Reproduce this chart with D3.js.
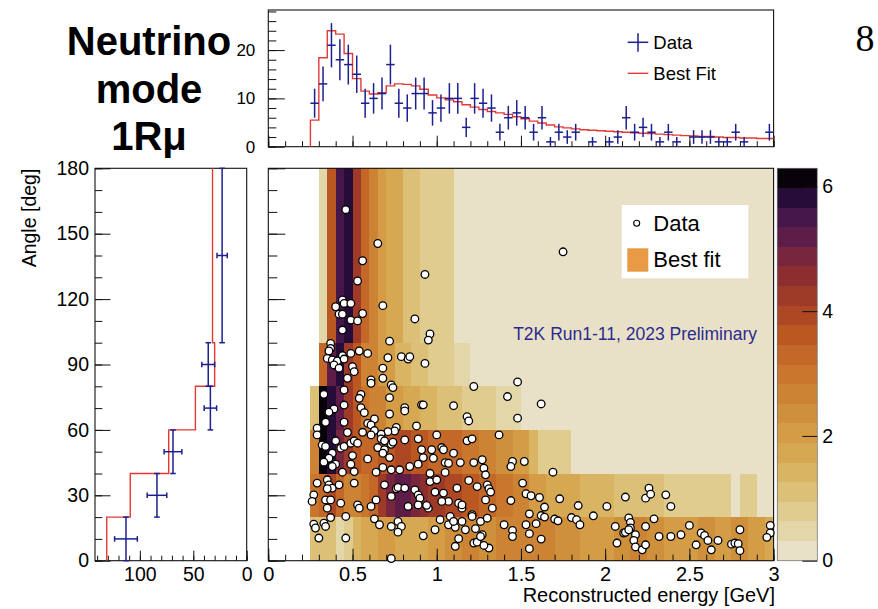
<!DOCTYPE html>
<html>
<head>
<meta charset="utf-8">
<script src="https://cdn.jsdelivr.net/npm/d3@7"></script>
<style>
  html, body { margin: 0; padding: 0; background: #fff; }
  svg { display: block; }
</style>
</head>
<body>
<svg id="chart" width="878" height="609"></svg>
<script>
// ---------------- data ----------------
// Reconstructed-energy projection: 0.05 GeV bins starting at 0.25 GeV
const energyBinStart = 0.25;
const energyBinWidth = 0.05;
const energyData = [9,13,21,18,17,15,9,10,11,17,9,8,11,11,7,8,10,10,4,10,9,8,3,6,7,
                    6,3,6,1,3,2,3,0,1,0,1,2,6,3,4,3,1,3,1,0,2,2,2,1,1,3,1,0,0,3];
const energyFit = [5.5,18.4,24.0,23.3,19.3,14.1,11.5,10.9,11.2,12.6,13.0,12.9,12.6,11.9,10.7,
                   10.1,9.7,9.3,8.7,8.2,7.7,7.3,7.0,6.7,6.2,5.8,5.3,4.9,4.5,4.1,3.9,3.7,3.5,
                   3.4,3.3,3.2,3.1,3.0,2.9,2.8,2.7,2.6,2.5,2.4,2.3,2.2,2.1,2.1,2.0,1.9,1.9,
                   1.8,1.8,1.7,1.7];

// Angle projection
const angleEdges = [0, 20, 40, 60, 80, 100, 180];
const angleData = [113, 84, 69, 34, 36, 23];
const angleFit = [131, 109, 73, 48, 30, 32];

// 2D best-fit prediction, one row of variable-width energy bins per angle band
const fitEdges_0_20 = [0.25,0.40,0.45,0.50,0.55,0.65,0.75,0.95,1.05,1.15,1.25,1.35,1.70,1.85,2.05,2.15,2.25,2.35,2.55,2.65,2.75,2.85,2.95,3.0];
const fitZ_0_20     = [1.1,0.5,0.8,1.4,1.7,2.0,1.7,2.0,2.4,2.7,2.4,2.7,2.4,2.0,2.4,2.7,2.4,2.0,2.4,2.0,2.4,2.0,1.7];
const fitEdges_20_40 = [0.25,0.30,0.35,0.40,0.45,0.55,0.60,0.65,0.70,0.75,0.85,0.90,0.95,1.05,1.15,1.25,1.35,1.45,1.55,1.65,1.85,2.05,2.35,2.75,2.80,2.90,3.0];
const fitZ_20_40     = [3.0,3.3,3.9,3.3,2.7,3.0,3.3,4.2,4.9,5.2,4.9,4.6,4.2,3.9,3.6,3.3,3.0,2.7,2.0,1.7,1.4,1.1,0.8,0.2,0.8,0.2];
const fitEdges_40_60 = [0.25,0.30,0.35,0.40,0.45,0.50,0.55,0.65,0.75,0.85,0.95,1.15,1.25,1.35,1.45,1.55,1.60,1.80,3.0];
const fitZ_40_60     = [2.7,6.1,5.8,4.9,4.2,3.6,3.3,3.6,3.9,3.6,3.3,3.0,2.7,2.4,2.0,1.4,0.8,0.2];
const fitEdges_60_80 = [0.25,0.30,0.35,0.40,0.45,0.50,0.55,0.60,0.70,0.80,0.90,1.00,1.15,1.35,1.50,3.0];
const fitZ_60_80     = [1.1,6.1,5.8,5.2,4.2,3.6,3.0,2.7,2.0,1.7,1.4,1.1,0.8,0.5,0.2];
const fitEdges_80_100 = [0.30,0.35,0.40,0.45,0.50,0.55,0.65,0.75,0.85,0.95,1.10,1.20,3.0];
const fitZ_80_100     = [3.3,5.2,5.8,4.2,3.6,2.7,2.0,1.4,1.1,0.8,0.5,0.2];
const fitEdges_100_180 = [0.30,0.35,0.40,0.45,0.50,0.55,0.60,0.65,0.70,0.80,0.90,1.10,3.0];
const fitZ_100_180     = [0.5,3.6,5.5,5.8,4.2,3.3,2.7,2.0,1.7,1.1,0.8,0.2];

// Selected events: [reconstructed energy (GeV), angle (deg)]
const dataEvents = [
  [0.46,161],[0.65,145.5],[0.56,137.6],[0.93,131.3],[0.53,128.3],[0.68,117],[0.87,110.9],[0.40,116.5],
  [0.44,119.6],[0.45,118],[0.49,118],[0.42,113.1],[0.44,113.1],[0.49,110.4],[0.53,110],[0.56,113.4],
  [0.44,105.8],[0.96,104],[1.75,141.7],
  [0.37,99.7],[0.72,100.7],[0.95,101.2],[0.37,97.4],[0.36,96.2],[0.35,92.8],[0.38,92.1],[0.41,91.6],
  [0.44,94.1],[0.49,95.1],[0.54,96.2],[0.59,95.1],[0.45,92.5],[0.50,89],[0.51,86.7],[0.39,89.8],
  [0.42,88.3],[0.47,83.7],[0.71,93.1],[0.79,93.6],[0.83,92.5],[0.84,93.6],[0.93,90.5],[0.68,88.3],
  [0.68,83.7],[0.61,82.9],[0.61,81.4],[0.73,80.6],[0.74,79.4],[1.22,79.9],
  [0.33,76.3],[0.45,78.3],[0.55,76.3],[0.54,74.5],[0.72,74.8],[0.45,71.4],[0.39,69.6],[0.36,68.1],
  [0.34,63.5],[0.29,60.8],[0.29,57.7],[0.55,70.2],[0.57,67.9],[0.63,65],[0.59,63],[0.61,62.3],
  [0.72,67.3],[0.81,70.2],[0.81,68.7],[0.91,71.5],[0.92,71.5],[1.10,71.1],[1.18,66.1],[1.19,64.1],
  [0.45,63.5],[0.88,61.8],[0.76,61.1],[0.75,59.5],[0.71,59.2],[0.67,58],[0.63,59.7],[0.56,58.9],
  [0.61,57.7],[0.47,58.8],[0.40,55],[0.32,53.1],[0.34,52.4],[0.43,51.6],[0.45,52.4],[0.49,53.9],
  [0.51,55],[0.53,53.9],[0.67,55.9],[0.69,55],[0.73,53.4],[0.74,54.4],[0.65,51.9],[0.69,50.9],
  [0.68,49.3],[0.81,55.4],[0.89,55.9],[1.00,57.7],[1.18,55],[1.21,55.9],[1.37,57.7],
  [0.38,49.3],[0.36,47],[0.33,45.2],[0.40,44.3],[0.38,43.2],[0.50,48.2],[0.49,44.3],[0.44,40.6],
  [0.51,40.9],[0.59,46.7],[0.72,47.3],[0.64,40.6],[0.68,42.8],[0.73,41.7],[0.78,41.7],[0.84,43.2],
  [0.89,44.3],[0.91,50.9],[0.92,47.3],[0.97,50.9],[1.03,51.9],[1.04,50.9],[1.10,49.3],[0.98,47],
  [1.05,45],[1.07,44.7],[1.14,45],[1.22,45],[1.27,46.3],[1.28,42.4],[1.05,40.5],[0.96,40.1],
  [0.29,35.6],[0.35,37.1],[0.36,34.8],[0.38,33.3],[0.35,33],[0.42,34.8],[0.51,35.6],[0.27,30.2],
  [0.26,27.2],[0.34,27.9],[0.37,27.9],[0.35,24.1],[0.43,26.4],[0.53,25.6],[0.54,24.1],[0.61,24.9],
  [0.64,27.9],[0.69,34.8],[0.76,33],[0.77,33.6],[0.81,33.3],[0.73,29.5],[0.87,32.5],[0.89,30.2],
  [0.90,28.7],[0.89,25.6],[0.95,24.1],[0.94,25.4],[0.96,36.3],[1.00,37.1],[0.99,31.5],[1.04,31],
  [1.07,27.2],[1.12,33.3],[1.13,26.4],[1.15,24.1],[1.15,25.6],[1.19,36.8],[1.21,21.1],[1.24,34],
  [1.29,39.4],[1.30,34.8],[1.31,33],[1.32,31.5],[1.29,27.9],[1.33,24.1],[0.83,24.9],[1.03,27.2],
  [0.27,16.8],[0.28,15],[0.33,17.2],[0.34,15.7],[0.37,19.8],[0.46,20.3],[0.30,10.4],[0.46,10.4],
  [0.63,19.2],[0.66,16.5],[0.73,15.7],[0.77,18],[0.79,15.7],[0.77,13.1],[0.92,11.4],[0.99,14.2],
  [1.02,18.8],[1.08,20.3],[1.07,16.5],[1.11,15.3],[1.10,18],[1.15,18],[1.17,14.2],[1.13,10.1],
  [1.11,6.6],[1.21,20.3],[1.26,18],[1.30,19.5],[1.23,14.7],[1.27,11.9],[1.22,8.1],[1.24,8.5],
  [1.26,11.1],[1.31,5.8],[1.28,7],[0.73,1],
  [1.48,82],[1.42,75.3],[1.48,65.4],[1.45,45.5],[1.44,43.2],[1.44,27.6],[1.40,16.5],[1.45,13.9],[1.45,11.1],
  [1.62,71.9],[1.69,40.6],[1.52,45.5],[1.51,35.6],[1.53,30.7],[1.56,29.8],[1.61,29],[1.64,24.6],
  [1.73,28.4],[1.84,25.3],[1.55,21.5],[1.62,20.7],[1.64,20],[1.70,19.1],[1.72,18.3],[1.80,19.8],
  [1.83,18.8],[1.85,16.5],[1.93,20.6],[2.01,24.9],[2.12,29.2],[2.26,33.3],[2.24,28.7],[2.27,30.5],
  [2.36,30.2],[2.39,24.9],[2.29,19.2],[1.53,16.5],[1.55,12.4],[1.59,17],[1.62,9.9],[1.55,5.5],
  [2.06,15.7],[2.07,8.1],[2.14,19.6],[2.15,17.6],[2.15,15],[2.11,12.7],[2.12,13],[2.14,14.2],
  [2.18,11.9],[2.17,9.3],[2.18,6.3],[2.22,5],[2.24,7.3],[2.24,15.7],[2.32,11.1],[2.39,11.1],
  [2.45,11.9],[2.50,16.2],[2.54,7.3],[2.57,12.7],[2.59,11.6],[2.61,9.3],[2.63,5],[2.67,9.3],
  [2.75,7.6],[2.77,8.1],[2.79,7.8],[2.80,14.2],[2.80,4.6],[2.98,16.2],[2.98,12.7],[2.96,10.7]
];

// Colour palette (20 contour levels, low to high) and axis ticks
const zMax = 6.29;
const palette = ["#e9e1c7","#e3d6a9","#e0cc8f","#dcc077","#d9b462","#d6a852","#d39c45","#cf903b",
                 "#cc8434","#c8772d","#c36828","#bb5822","#ae4824","#9e3a28","#8c2e30","#78263e",
                 "#5e1d48","#44164a","#280c38","#070309"];
const colorTicks = [0, 2, 4, 6];
const energyTicks = [0, 0.5, 1, 1.5, 2, 2.5, 3];
const angleTicks = [0, 30, 60, 90, 120, 150, 180];
const eventTicks = [0, 10, 20];
const countTicks = [0, 50, 100];

// ---------------- drawing ----------------
const FONT = "'Liberation Sans', Arial, Helvetica, sans-serif";
const svg = d3.select("#chart");

const xE = d3.scaleLinear().domain([0, 3]).range([268.3, 773.6]);
const yA = d3.scaleLinear().domain([0, 180]).range([560.7, 168.3]);
const yTop = d3.scaleLinear().domain([0, 28.3]).range([146.7, 10]);
const xLeft = d3.scaleLinear().domain([0, 142]).range([246.7, 95]);
const zAxis = d3.scaleLinear().domain([0, zMax]).range([560.7, 168.3]);
const color = d3.scaleQuantize().domain([0, zMax]).range(palette);

const RED = "#e23a35";
const BLUE = "#1d1f8f";
const fmt = d3.format("~g");

// --- 2D best-fit histogram
const bands = [
  { lo: 0, hi: 20, edges: fitEdges_0_20, z: fitZ_0_20 },
  { lo: 20, hi: 40, edges: fitEdges_20_40, z: fitZ_20_40 },
  { lo: 40, hi: 60, edges: fitEdges_40_60, z: fitZ_40_60 },
  { lo: 60, hi: 80, edges: fitEdges_60_80, z: fitZ_60_80 },
  { lo: 80, hi: 100, edges: fitEdges_80_100, z: fitZ_80_100 },
  { lo: 100, hi: 180, edges: fitEdges_100_180, z: fitZ_100_180 }
];
const cells = bands.flatMap(b => b.z.map((z, i) => ({ lo: b.lo, hi: b.hi, e0: b.edges[i], e1: b.edges[i + 1], z })));
svg.append("g").selectAll("rect").data(cells).join("rect")
  .attr("x", d => xE(d.e0)).attr("width", d => xE(d.e1) - xE(d.e0))
  .attr("y", d => yA(d.hi)).attr("height", d => yA(d.lo) - yA(d.hi))
  .attr("fill", d => color(d.z)).attr("shape-rendering", "crispEdges");

// --- colour bar
const levelStep = zMax / palette.length;
svg.append("g").selectAll("rect").data(palette).join("rect")
  .attr("x", 777.3).attr("width", 40)
  .attr("y", (c, i) => zAxis((i + 1) * levelStep))
  .attr("height", (c, i) => zAxis(i * levelStep) - zAxis((i + 1) * levelStep))
  .attr("fill", c => c).attr("shape-rendering", "crispEdges");
svg.append("rect").attr("x", 777.3).attr("y", zAxis(zMax)).attr("width", 40)
  .attr("height", zAxis(0) - zAxis(zMax)).attr("fill", "none").attr("stroke", "#777").attr("stroke-width", 0.8);

// --- frames
function frame(x0, y0, x1, y1) {
  svg.append("rect").attr("x", x0).attr("y", y0).attr("width", x1 - x0).attr("height", y1 - y0)
    .attr("fill", "none").attr("stroke", "#111").attr("stroke-width", 1.1);
}
frame(xE(0), yA(180), xE(3), yA(0));
frame(xE(0), yTop(28.3), xE(3), yTop(0));
frame(xLeft(142), yA(180), xLeft(0), yA(0));

// --- axes (ROOT style: ticks pointing into the frame)
function axisG(gen, tx, ty, fs) {
  const g = svg.append("g").attr("transform", `translate(${tx},${ty})`).call(gen);
  g.select(".domain").remove();
  g.attr("font-family", FONT).attr("font-size", fs);
  g.selectAll(".tick line").attr("stroke", "#111").attr("stroke-width", 1);
  g.selectAll(".tick text").attr("fill", "#000");
  return g;
}
const tenths = d3.range(0, 31).map(i => i / 10);
// main panel
axisG(d3.axisBottom(xE).tickValues(tenths).tickSize(-6).tickFormat(""), 0, yA(0), 20);
axisG(d3.axisBottom(xE).tickValues(energyTicks).tickSize(-12).tickPadding(6).tickFormat(fmt), 0, yA(0), 20);
axisG(d3.axisLeft(yA).tickValues(d3.range(0, 181, 10)).tickSize(-9).tickFormat(""), xE(0), 0, 19);
axisG(d3.axisLeft(yA).tickValues(angleTicks).tickSize(-17).tickFormat(""), xE(0), 0, 19);
// energy projection
axisG(d3.axisBottom(xE).tickValues(tenths).tickSize(-5.5).tickFormat(""), 0, yTop(0), 17);
axisG(d3.axisBottom(xE).tickValues(energyTicks).tickSize(-11).tickFormat(""), 0, yTop(0), 17);
axisG(d3.axisLeft(yTop).tickValues(d3.range(0, 29, 2)).tickSize(-8).tickFormat(""), xE(0), 0, 17);
axisG(d3.axisLeft(yTop).tickValues(eventTicks).tickSize(-16.5).tickPadding(13).tickFormat(fmt), xE(0), 0, 17);
// angle projection
axisG(d3.axisLeft(yA).tickValues(d3.range(0, 181, 10)).tickSize(-7.3).tickFormat(""), xLeft(142), 0, 19.5);
axisG(d3.axisLeft(yA).tickValues(angleTicks).tickSize(-15.5).tickPadding(6).tickFormat(fmt), xLeft(142), 0, 19.5);
axisG(d3.axisBottom(xLeft).tickValues(d3.range(0, 141, 10)).tickSize(-5).tickFormat(""), 0, yA(0), 19.5);
axisG(d3.axisBottom(xLeft).tickValues(countTicks).tickSize(-10).tickPadding(6.5).tickFormat(fmt), 0, yA(0), 19.5);
// colour bar
axisG(d3.axisRight(zAxis).tickValues(colorTicks).tickSize(-15).tickPadding(5).tickFormat(fmt), 817.3, 0, 19.5);

// --- energy projection: best fit step line and data crosses
const fitStepPts = [[energyBinStart, 0]]
  .concat(energyFit.map((v, i) => [energyBinStart + i * energyBinWidth, v]))
  .concat([[energyBinStart + energyFit.length * energyBinWidth, energyFit[energyFit.length - 1]]]);
svg.append("path")
  .attr("d", d3.line().x(d => xE(d[0])).y(d => yTop(d[1])).curve(d3.curveStepAfter)(fitStepPts))
  .attr("fill", "none").attr("stroke", RED).attr("stroke-width", 1.4);

const topPts = energyData.map((n, i) => ({ n, e0: energyBinStart + i * energyBinWidth }))
  .filter(d => d.n > 0);
const gTop = svg.append("g").attr("stroke", BLUE).attr("stroke-width", 1.5);
gTop.selectAll("line.h").data(topPts).join("line").attr("class", "h")
  .attr("x1", d => xE(d.e0)).attr("x2", d => xE(d.e0 + energyBinWidth))
  .attr("y1", d => yTop(d.n)).attr("y2", d => yTop(d.n));
gTop.selectAll("line.v").data(topPts).join("line").attr("class", "v")
  .attr("x1", d => xE(d.e0 + energyBinWidth / 2)).attr("x2", d => xE(d.e0 + energyBinWidth / 2))
  .attr("y1", d => yTop(d.n - Math.sqrt(d.n))).attr("y2", d => yTop(d.n + Math.sqrt(d.n)));

// --- angle projection: best fit step line and data crosses with end caps
const anglePts = angleFit.map((v, i) => [v, angleEdges[i]])
  .concat([[angleFit[angleFit.length - 1], angleEdges[angleEdges.length - 1]]]);
svg.append("path")
  .attr("d", d3.line().x(d => xLeft(d[0])).y(d => yA(d[1])).curve(d3.curveStepBefore)(anglePts))
  .attr("fill", "none").attr("stroke", RED).attr("stroke-width", 1.4);

const leftPts = angleData.map((n, i) => ({ n, lo: angleEdges[i], hi: angleEdges[i + 1] }));
const gLeft = svg.append("g").attr("stroke", BLUE).attr("stroke-width", 1.5);
const cap = 2.8;
leftPts.forEach(d => {
  const x = xLeft(d.n), yl = yA(d.lo), yh = yA(d.hi), yc = yA((d.lo + d.hi) / 2);
  const xa = xLeft(d.n + Math.sqrt(d.n)), xb = xLeft(d.n - Math.sqrt(d.n));
  gLeft.append("line").attr("x1", x).attr("x2", x).attr("y1", yl).attr("y2", yh);
  gLeft.append("line").attr("x1", x - cap).attr("x2", x + cap).attr("y1", yl).attr("y2", yl);
  gLeft.append("line").attr("x1", x - cap).attr("x2", x + cap).attr("y1", yh).attr("y2", yh);
  gLeft.append("line").attr("x1", xa).attr("x2", xb).attr("y1", yc).attr("y2", yc);
  gLeft.append("line").attr("x1", xa).attr("x2", xa).attr("y1", yc - cap).attr("y2", yc + cap);
  gLeft.append("line").attr("x1", xb).attr("x2", xb).attr("y1", yc - cap).attr("y2", yc + cap);
});

// --- events in the 2D panel
svg.append("g").selectAll("circle").data(dataEvents).join("circle")
  .attr("cx", d => xE(d[0])).attr("cy", d => yA(d[1])).attr("r", 3.8)
  .attr("fill", "#fff").attr("stroke", "#000").attr("stroke-width", 1.3);

// --- legends
const tl = svg.append("g").attr("font-family", FONT).attr("font-size", 18.5);
tl.append("line").attr("x1", 627.7).attr("x2", 648.3).attr("y1", 42.3).attr("y2", 42.3).attr("stroke", BLUE).attr("stroke-width", 1.5);
tl.append("line").attr("x1", 638).attr("x2", 638).attr("y1", 33.3).attr("y2", 51.7).attr("stroke", BLUE).attr("stroke-width", 1.5);
tl.append("text").attr("x", 653.3).attr("y", 48.5).text("Data");
tl.append("line").attr("x1", 627.7).attr("x2", 648.3).attr("y1", 73.3).attr("y2", 73.3).attr("stroke", RED).attr("stroke-width", 1.4);
tl.append("text").attr("x", 653.3).attr("y", 80).text("Best Fit");

const ml = svg.append("g").attr("font-family", FONT).attr("font-size", 22);
ml.append("rect").attr("x", 621.7).attr("y", 205).attr("width", 126.6).attr("height", 73.3).attr("fill", "#fff");
ml.append("circle").attr("cx", 636.7).attr("cy", 223.3).attr("r", 3).attr("fill", "#fff").attr("stroke", "#000").attr("stroke-width", 1.1);
ml.append("text").attr("x", 653.3).attr("y", 231).text("Data");
ml.append("rect").attr("x", 627.3).attr("y", 248.3).attr("width", 21).attr("height", 23.4).attr("fill", "#e99a45");
ml.append("text").attr("x", 653.3).attr("y", 267.3).text("Best fit");

svg.append("text").attr("x", 757).attr("y", 339.5).attr("text-anchor", "end")
  .attr("font-family", FONT).attr("font-size", 17.5).attr("fill", "#2b2b8f")
  .text("T2K Run1-11, 2023 Preliminary");

// --- titles
const title = svg.append("g").attr("font-family", FONT).attr("font-size", 40)
  .attr("font-weight", "bold").attr("text-anchor", "middle");
title.append("text").attr("x", 149).attr("y", 55).text("Neutrino");
title.append("text").attr("x", 149).attr("y", 103.3).text("mode");
title.append("text").attr("x", 149).attr("y", 150).text("1Rμ");

svg.append("text").attr("x", 865).attr("y", 51).attr("text-anchor", "middle")
  .attr("font-family", "'Liberation Serif', 'DejaVu Serif', serif").attr("font-size", 38).text("8");

svg.append("text").attr("transform", "translate(36,218) rotate(-90)").attr("text-anchor", "middle")
  .attr("font-family", FONT).attr("font-size", 19.5).text("Angle [deg]");
svg.append("text").attr("x", 775).attr("y", 602).attr("text-anchor", "end")
  .attr("font-family", FONT).attr("font-size", 20).text("Reconstructed energy [GeV]");
</script>
</body>
</html>
